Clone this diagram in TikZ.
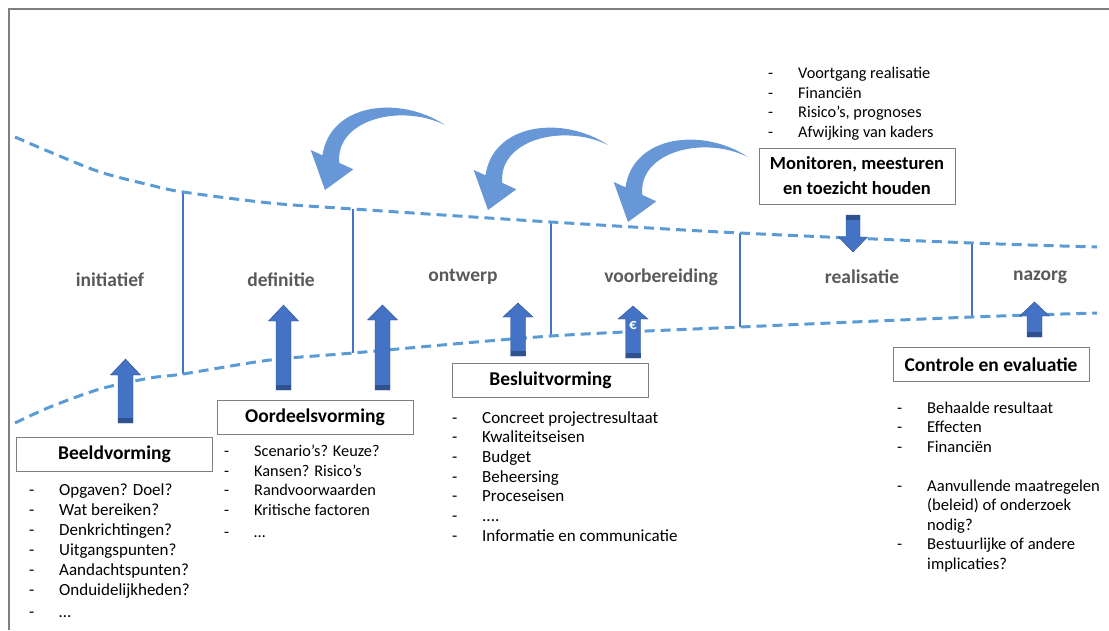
\documentclass[tikz,border=0pt]{standalone}
\usepackage{fontspec}
\setmainfont{Carlito}
\usepackage{xcolor}

\definecolor{framegray}{HTML}{7F7F7F}
\definecolor{phasegray}{HTML}{595959}
\definecolor{lineblue}{HTML}{5B9BD5}
\definecolor{arrowblue}{HTML}{4472C4}
\definecolor{arrowdark}{HTML}{2F528F}
\definecolor{curveblue}{HTML}{6797D6}

\newcommand{\dashitem}[1]{\makebox[30pt][l]{-}#1}
\newcommand{\moreline}[1]{\makebox[30pt][l]{}#1}

\tikzset{
  phase/.style={font=\fontsize{19.5}{22}\selectfont\bfseries, text=phasegray},
  header/.style={draw=framegray, fill=white, line width=1pt, minimum width=196pt,
    minimum height=34pt, inner sep=0pt, font=\fontsize{19.5}{22}\selectfont\bfseries},
  itemlist/.style={anchor=north west, align=left, inner sep=0pt,
    font=\fontsize{17}{19.7}\selectfont},
  bound/.style={lineblue, line width=3pt, dash pattern=on 10pt off 6pt},
  divider/.style={arrowblue, line width=1.2pt},
  blockarrow/.style={fill=arrowblue, draw=arrowdark, line width=0.4pt},
  curvearrow/.style={fill=curveblue},
}

\begin{document}
\begin{tikzpicture}[x=1pt, y=-1pt]
    \useasboundingbox (0,0) rectangle (1109,630);
    \draw[framegray, line width=2pt] (9,630) -- (9,9) -- (1109,9);

    % phase boundaries
    \coordinate (top1) at (183,192);
    \coordinate (top2) at (353,209);
    \coordinate (top3) at (551,222);
    \coordinate (top4) at (740,233);
    \coordinate (top5) at (972,243);
    \coordinate (bot1) at (183,374);
    \coordinate (bot2) at (353,353);
    \coordinate (bot3) at (551,336);
    \coordinate (bot4) at (740,327);
    \coordinate (bot5) at (972,317);
    \foreach \i in {1,...,5}
      \draw[divider] (top\i) -- (bot\i);
    \draw[bound] plot[smooth] coordinates {(15,137) (50,152) (100,172) (150,185)
      (top1) (270,203) (top2) (top3) (top4) (top5) (1097,247)};
    \draw[bound] plot[smooth] coordinates {(15,423) (50,407) (100,389) (150,378)
      (bot1) (270,360) (bot2) (bot3) (bot4) (bot5) (1097,313)};

    \node[phase] (initiatief) at (110,280) {initiatief};
    \node[phase] (definitie) at (281,280) {definitie};
    \node[phase] (ontwerp) at (463,277) {ontwerp};
    \node[phase] (voorbereiding) at (661,277) {voorbereiding};
    \node[phase] (realisatie) at (862,277) {realisatie};
    \node[phase] (nazorg) at (1040,277) {nazorg};

    % feedback arrows
    \foreach \dx/\dy in {445/125, 608/145, 748/157}
      \fill[curvearrow, shift={(\dx,\dy)}]
        (0,0) .. controls (-45,-30) and (-115,-22) .. (-122.5,30.3)
        -- (-134.3,25) -- (-120,65) -- (-91.7,44.3) -- (-105.7,37.9)
        .. controls (-110,-5) and (-45,-22) .. (0,0) -- cycle;

    % block arrows
    \foreach \ax/\atip/\ahead/\abot in {125.5/359/375/423, 283.5/305/321/390,
        382.5/305/320/390, 518/303/317/356, 633/306/319/358, 1034.5/302/316/337} {
      \fill[blockarrow] (\ax-7.5,\abot) -- (\ax-7.5,\ahead) -- (\ax-15,\ahead)
        -- (\ax,\atip) -- (\ax+15,\ahead) -- (\ax+7.5,\ahead) -- (\ax+7.5,\abot) -- cycle;
      \fill[arrowdark] (\ax-7.5,\abot-5) rectangle (\ax+7.5,\abot);
    }
    \fill[blockarrow] (846,215) -- (860,215) -- (860,237) -- (867.5,237)
      -- (853,252) -- (838.5,237) -- (846,237) -- cycle;
    \fill[arrowdark] (846,215) rectangle (860,220);
    \node[text=white, font=\fontsize{15}{15}\selectfont\bfseries, inner sep=0pt] (euro) at (633,325) {€};

    % headers
    \node[header] (beeld) at (114.5,454) {Beeldvorming};
    \node[header] (oordeel) at (315,417) {Oordeelsvorming};
    \node[header] (besluit) at (550.5,380) {Besluitvorming};
    \node[header] (controle) at (991,364.5) {Controle en evaluatie};
    \node[header, minimum height=56pt, align=center, font=\fontsize{18.5}{25}\selectfont\bfseries]
      (monitor) at (857,176) {Monitoren, meesturen\\en toezicht houden};

    % lists
    \node[itemlist, font=\fontsize{17}{19.9}\selectfont] (beeldlist) at (29,483.8)
      {\dashitem{Opgaven? Doel?}\\
      \dashitem{Wat bereiken?}\\ \dashitem{Denkrichtingen?}\\
      \dashitem{Uitgangspunten?}\\ \dashitem{Aandachtspunten?}\\
      \dashitem{Onduidelijkheden?}\\[2pt] \dashitem{…}};
    \node[itemlist, font=\fontsize{16.3}{19.5}\selectfont] (oordeellist) at (224,445)
      {\dashitem{Scenario’s? Keuze?}\\
      \dashitem{Kansen? Risico’s}\\ \dashitem{Randvoorwaarden}\\
      \dashitem{Kritische factoren}\\[3pt] \dashitem{…}};
    \node[itemlist] (besluitlist) at (452,411) {\dashitem{Concreet projectresultaat}\\
      \dashitem{Kwaliteitseisen}\\ \dashitem{Budget}\\ \dashitem{Beheersing}\\
      \dashitem{Proceseisen}\\ \dashitem{....}\\ \dashitem{Informatie en communicatie}};
    \node[itemlist, font=\fontsize{16.6}{19.5}\selectfont] (controlelist) at (897,401.7)
      {\dashitem{Behaalde resultaat}\\
      \dashitem{Effecten}\\ \dashitem{Financiën}\\[19.5pt]
      \dashitem{Aanvullende maatregelen}\\ \moreline{(beleid) of onderzoek}\\
      \moreline{nodig?}\\ \dashitem{Bestuurlijke of andere}\\ \moreline{implicaties?}};
    \node[itemlist, font=\fontsize{16.3}{19.7}\selectfont] (monitorlist) at (768,67)
      {\dashitem{Voortgang realisatie}\\
      \dashitem{Financiën}\\ \dashitem{Risico’s, prognoses}\\
      \dashitem{Afwijking van kaders}};
\end{tikzpicture}
\end{document}
